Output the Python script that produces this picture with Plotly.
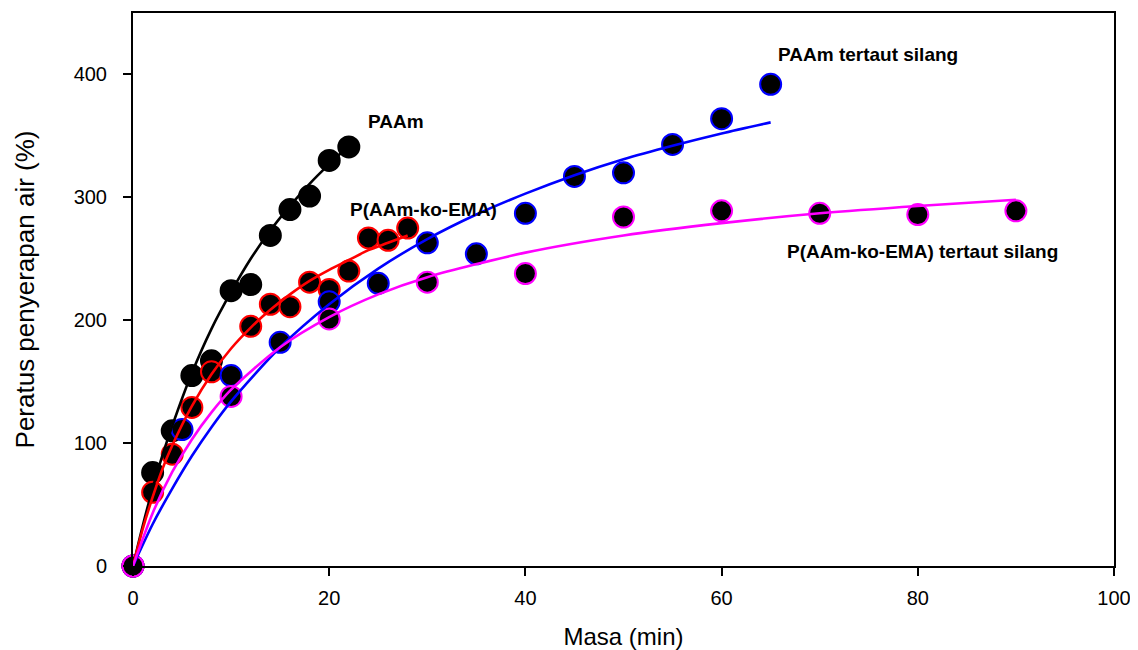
import plotly.graph_objects as go

# ---- measured points (time in min, % water uptake) ----
paam_t = [0, 2, 4, 6, 8, 10, 12, 14, 16, 18, 20, 22]
paam_y = [0, 76, 110, 155, 167, 224, 229, 269, 290, 301, 330, 341]

ko_t = [0, 2, 4, 6, 8, 12, 14, 16, 18, 20, 22, 24, 26, 28]
ko_y = [0, 60, 91, 129, 158, 195, 213, 211, 231, 225, 240, 267, 265, 275]

paamx_t = [0, 5, 10, 15, 20, 25, 30, 35, 40, 45, 50, 55, 60, 65]
paamx_y = [0, 111, 155, 182, 215, 230, 263, 254, 287, 317, 320, 343, 364, 392]

kox_t = [0, 10, 20, 30, 40, 50, 60, 70, 80, 90]
kox_y = [0, 138, 201, 231, 238, 284, 289, 287, 286, 289]

# ---- fitted curves ----
paam_fit_t = [0, 1, 2, 3, 4, 6, 8, 10, 12, 14, 16, 18, 20, 22]
paam_fit_y = [0, 33, 63, 90, 114, 157, 193, 223, 250, 273, 293, 311, 327, 342]

ko_fit_t = [0, 1, 2, 3, 4, 6, 8, 10, 12, 14, 16, 18, 20, 22, 24, 26, 28]
ko_fit_y = [0, 30.5, 56, 79, 98, 130, 156, 177, 194, 208.5, 221, 232, 241, 249, 257, 263, 269]

paamx_fit_t = [0, 2, 4, 6, 8, 10, 15, 20, 25, 30, 35, 40, 45, 50, 55, 60, 65]
paamx_fit_y = [0, 34, 63, 89.5, 113, 134, 178, 213, 242, 266, 286, 303, 318, 331, 342, 352, 361]

kox_fit_t = [0, 2, 4, 6, 8, 10, 15, 20, 25, 30, 40, 50, 60, 70, 80, 90]
kox_fit_y = [0, 43, 76.5, 103, 125, 143.5, 178, 202.5, 221, 235, 255, 269, 279, 287, 293, 298]

series = [
    ("PAAm", paam_t, paam_y, paam_fit_t, paam_fit_y, "#000000"),
    ("P(AAm-ko-EMA)", ko_t, ko_y, ko_fit_t, ko_fit_y, "#ff0000"),
    ("PAAm tertaut silang", paamx_t, paamx_y, paamx_fit_t, paamx_fit_y, "#0000ff"),
    ("P(AAm-ko-EMA) tertaut silang", kox_t, kox_y, kox_fit_t, kox_fit_y, "#ff00ff"),
]

fig = go.Figure()
for name, t, y, ft, fy, col in series:
    fig.add_trace(go.Scatter(
        x=t, y=y, mode="markers", name=name, showlegend=False, cliponaxis=False,
        marker=dict(size=21, color="black", line=dict(color=col, width=2)),
    ))
for name, t, y, ft, fy, col in series:
    fig.add_trace(go.Scatter(
        x=ft, y=fy, mode="lines", name=name + " fit", showlegend=False, cliponaxis=False,
        line=dict(color=col, width=2.6, shape="spline", smoothing=0.8),
    ))

labels = [
    ("PAAm", 26.8, 362),
    ("P(AAm-ko-EMA)", 29.6, 290),
    ("PAAm tertaut silang", 74.9, 416),
    ("P(AAm-ko-EMA) tertaut silang", 80.5, 256),
]
for text, lx, ly in labels:
    fig.add_annotation(x=lx, y=ly, xref="x", yref="y", text="<b>" + text + "</b>",
                       showarrow=False, xanchor="center", yanchor="middle",
                       font=dict(family="Liberation Sans, Arial", size=19, color="black"))

axis_common = dict(
    showline=True, linecolor="black", linewidth=2, mirror=True,
    ticks="outside", ticklen=8, tickwidth=1.5, tickcolor="black",
    showgrid=False, zeroline=False, automargin=False,
    tickfont=dict(family="Liberation Sans, Arial", size=20, color="black"),
)
fig.update_xaxes(range=[0, 100], tickvals=[0, 20, 40, 60, 80, 100],
                 title=dict(text="Masa (min)", standoff=21,
                            font=dict(family="Liberation Sans, Arial", size=24, color="black")),
                 ticklabelstandoff=5, **axis_common)
fig.update_yaxes(range=[0, 450], tickvals=[0, 100, 200, 300, 400],
                 title=dict(text="Peratus penyerapan air (%)", standoff=32,
                            font=dict(family="Liberation Sans, Arial", size=26, color="black")),
                 ticklabelstandoff=12, **axis_common)

# the page body adds an 8 px offset, so the figure is sized to fit the window
fig.update_layout(
    width=1130, height=642,
    margin=dict(l=125, r=24, t=5, b=84),
    plot_bgcolor="white", paper_bgcolor="white",
)
fig.write_html("out.html")
